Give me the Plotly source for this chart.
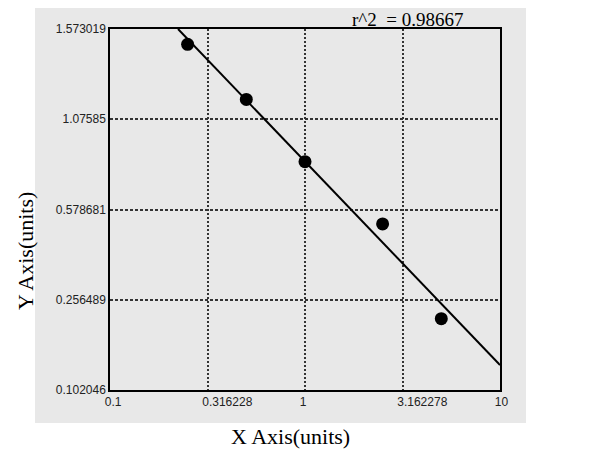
import plotly.graph_objects as go

# data (y in tick-index units of the custom axis)
x_vals = [0.25, 0.5, 1.0, 2.5, 5.0]
y_vals = [3.83, 3.22, 2.53, 1.84, 0.79]

fit_x = [0.2233, 10.0]
fit_y = [4.0, 0.277]

x_ticks = [0.1, 0.316228, 1, 3.162278, 10]
x_labels = ['0.1', '0.316228', '1', '3.162278', '10']
y_ticks = [0, 1, 2, 3, 4]
y_labels = ['0.102046', '0.256489', '0.578681', '1.07585', '1.573019']

r2_text = 'r^2  = 0.98667'

fig = go.Figure()

# regression line
fig.add_trace(go.Scatter(
    x=fit_x, y=fit_y,
    mode='lines',
    line=dict(color='black', width=2),
    showlegend=False,
    hoverinfo='skip'
))

# measured points
fig.add_trace(go.Scatter(
    x=x_vals, y=y_vals,
    mode='markers',
    marker=dict(color='black', size=13),
    showlegend=False
))

tick_font = dict(family='Liberation Sans', size=12, color='#222')
serif = dict(family='Liberation Serif', size=22, color='black')

# page body has an 8px margin, so the figure is a bit smaller than the window
fig.update_layout(
    width=584, height=450,
    margin=dict(l=102, r=92, t=21, b=68),
    paper_bgcolor='white',
    plot_bgcolor='#e8e8e8',
    xaxis=dict(
        type='log',
        range=[-1, 1],
        tickvals=x_ticks, ticktext=x_labels,
        ticks='', tickfont=tick_font,
        ticklabelposition='outside right', ticklabelshift=-6,
        showgrid=True, gridcolor='#333', griddash='2px,2px', gridwidth=1.5,
        showline=True, linecolor='black', linewidth=1.5, mirror=True,
        zeroline=False
    ),
    yaxis=dict(
        range=[0, 4],
        tickvals=y_ticks, ticktext=y_labels,
        ticks='', tickfont=tick_font,
        showgrid=True, gridcolor='#333', griddash='3px,2px', gridwidth=1.5,
        showline=True, linecolor='black', linewidth=1.5, mirror=True,
        zeroline=False
    ),
    shapes=[dict(
        type='rect', xref='paper', yref='paper',
        x0=-0.1923, x1=1.0667, y0=-0.0914, y1=1.061,
        fillcolor='#e8e8e8', line=dict(width=0), layer='below'
    )],
    annotations=[
        dict(text=r2_text, xref='paper', yref='paper', x=0.764, y=1.027,
             xanchor='center', yanchor='middle', showarrow=False,
             font=dict(family='Liberation Serif', size=19, color='black')),
        dict(text='X Axis(units)', xref='paper', yref='paper', x=0.462, y=-0.128,
             xanchor='center', yanchor='middle', showarrow=False, font=serif),
        dict(text='Y Axis(units)', xref='paper', yref='paper', x=-0.218, y=0.385,
             xanchor='center', yanchor='middle', textangle=-90, showarrow=False,
             font=serif),
    ]
)

fig.write_html('out.html')
